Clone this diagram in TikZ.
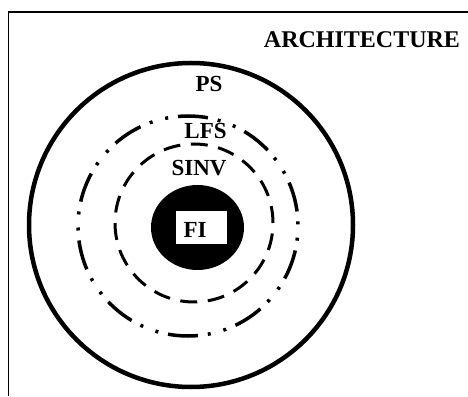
\documentclass[tikz,border=0pt]{standalone}
\usepackage{fontspec}
\setmainfont{Liberation Serif}
\usepackage{tikz}

\begin{document}
\begin{tikzpicture}[x=1pt, y=1pt, line cap=butt]
		\useasboundingbox (0,0) rectangle (468,396);

		% Frame
		\draw [line width=1.5] (468,384) -- (8.5,384) -- (8.5,0);

		% Layers
		\draw [line width=4.5] (191,171) circle (162);
		\draw [line width=3.5, dash pattern=on 3 off 10 on 30 off 10 on 3 off 13.1, dash phase=67.5] (188,170) circle (110);
		\draw [line width=3, dash pattern=on 17 off 10.58] (194,173) circle (79);
		\fill (197.5,168.5) ellipse [x radius=46.5, y radius=42.5];
		\node (fibox) at (201.5,168.5) [fill=white, inner sep=0, minimum width=51, minimum height=33] {};

		% Layer names
		\begin{scope}[every node/.style={inner sep=0, font=\fontsize{23}{23}\selectfont\bfseries}]
			\node (ps) at (209,312) {PS};
			\node (lfs) at (205.5,264.5) {LFS};
			\node (sinv) at (199,228) {SINV};
			\node (fi) at (195,166.5) {FI};
		\end{scope}

		% Title
		\node (title) at (362,356) [inner sep=0, font=\fontsize{24}{24}\selectfont\bfseries] {ARCHITECTURE};

	\end{tikzpicture}
\end{document}
